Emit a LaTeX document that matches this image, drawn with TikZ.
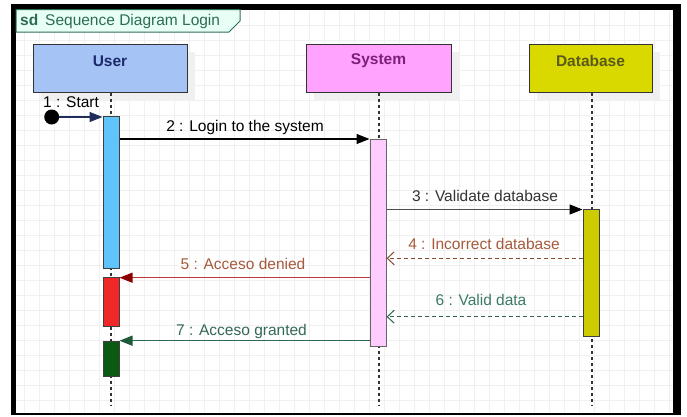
\documentclass[tikz,border=0pt]{standalone}
\usepackage{fontspec}
\setmainfont{Liberation Sans}
\usetikzlibrary{arrows.meta,shadows}

\definecolor{gridc}{HTML}{F0F0F0}
\definecolor{titlefill}{HTML}{E8FFF6}
\definecolor{titledraw}{HTML}{2E6F5A}
\definecolor{titletext}{HTML}{2D6B55}
\definecolor{userfill}{HTML}{A6C3F5}
\definecolor{usertext}{HTML}{1C2A6B}
\definecolor{sysfill}{HTML}{FFA3FF}
\definecolor{systext}{HTML}{7B1F7B}
\definecolor{dbfill}{HTML}{D9D900}
\definecolor{dbtext}{HTML}{5A5A1A}
\definecolor{barblue}{HTML}{5EC4FA}
\definecolor{barred}{HTML}{F02828}
\definecolor{bargreen}{HTML}{0A5A14}
\definecolor{barpink}{HTML}{FFCCFF}
\definecolor{bardb}{HTML}{CCCC00}
\definecolor{navy}{HTML}{1F2D5A}
\definecolor{msgbrown}{HTML}{A55A3C}
\definecolor{linered}{HTML}{B83A3A}
\definecolor{tipred}{HTML}{8B0000}
\definecolor{msgteal}{HTML}{3C7A68}
\definecolor{linegreen}{HTML}{2E6B4E}
\definecolor{tipgreen}{HTML}{1E5A3A}

\tikzset{
  txt/.style={font=\fontsize{15.5}{18}\selectfont, inner sep=0pt},
  head/.style={draw=black!80, line width=1pt, minimum height=48pt,
    drop shadow={shadow xshift=8pt, shadow yshift=-8pt, fill=black!6, opacity=1}},
  bar/.style={draw=black!75, line width=1pt, minimum width=16pt, inner sep=0pt},
  lifeline/.style={draw=black!80, line width=1.5pt, dash pattern=on 3pt off 3pt},
  gridline/.style={draw=gridc, line width=0.8pt},
  synctip/.style={-{Triangle[length=13pt,width=10pt]}},
  rettip/.style={-{Straight Barb[length=7pt,width=13pt,line width=1pt]}},
}

\begin{document}
\begin{tikzpicture}[x=1pt,y=-1pt]
\useasboundingbox (0,0) rectangle (687,416);
\fill[white] (0,0) rectangle (687,416);
% dark outer border and white canvas
\fill[black] (11,4) rectangle (681,414.5);
\fill[white] (16,9.5) rectangle (672.5,412.5);
% background grid
\foreach \x in {24,39,...,669} \draw[gridline] (\x,9.5) -- (\x,412.5);
\foreach \y in {25,40,...,400} \draw[gridline] (16,\y) -- (672.5,\y);

% frame title tab
\draw[fill=titlefill, draw=titledraw, line width=1pt]
  (16,9.5) -- (240,9.5) -- (240,21) -- (229,32) -- (16,32) -- cycle;
\node[txt, anchor=base west, text=titletext] (title) at (20,25)
  {\textbf{sd}\, Sequence Diagram Login};

% lifeline heads
\node[head, fill=userfill, minimum width=154pt,
  label={[txt, anchor=center, yshift=-17.5pt, text=usertext]north:\textbf{User}}]
  (user) at (110,68) {};
\node[head, fill=sysfill, minimum width=145pt,
  label={[txt, anchor=center, yshift=-17.5pt, text=systext]north:\textbf{System}}]
  (sys) at (378.5,68) {};
\node[head, fill=dbfill, minimum width=123pt,
  label={[txt, anchor=center, yshift=-17.5pt, text=dbtext]north:\textbf{Database}}]
  (db) at (590.5,68) {};

% lifelines
\coordinate (userend) at (111,405);
\coordinate (sysend) at (379,405);
\coordinate (dbend) at (592,405);
\draw[lifeline] (user.south -| userend) -- (userend);
\draw[lifeline] (sys.south -| sysend) -- (sysend);
\draw[lifeline] (db.south -| dbend) -- (dbend);

% activation bars
\node[bar, fill=barblue, minimum height=152pt] (ub1) at (111,192) {};
\node[bar, fill=barred, minimum height=49pt] (ub2) at (111,302.2) {};
\node[bar, fill=bargreen, minimum height=35pt] (ub3) at (111,358.5) {};
\node[bar, fill=barpink, draw=black!60, minimum height=207pt] (sb) at (378,242.5) {};
\node[bar, fill=bardb, minimum height=127pt] (dbb) at (591,272.7) {};

% found message start
\node[circle, fill=black, minimum size=15pt, inner sep=0pt] (start) at (51.7,117) {};

% messages
\draw[synctip, draw=navy, line width=1.2pt] (start) -- (ub1.west |- start);
\node[txt, anchor=west] (l1) at (43,101.7) {1 : Start};

\draw[synctip, line width=1.2pt] (ub1.east |- 0,139) -- (sb.west |- 0,139);
\node[txt] (l2) at (245,127) {2 : Login to the system};

\draw[-{Triangle[length=13pt,width=10pt,color=black]}, draw=black!70, line width=1.2pt]
  (sb.east |- 0,209.5) -- (dbb.west |- 0,209.5);
\node[txt, text=black!80] (l3) at (485,196) {3 : Validate database};

\draw[rettip, draw=msgbrown!80!black, line width=1pt, dash pattern=on 4pt off 3pt]
  (dbb.west |- 0,258.3) -- (sb.east |- 0,258.3);
\node[txt, text=msgbrown] (l4) at (484,243.5) {4 : Incorrect database};

\draw[-{Triangle[length=13pt,width=10pt,color=tipred]}, draw=linered, line width=1.2pt]
  (sb.west |- 0,277.7) -- (ub2.east |- 0,277.7);
\node[txt, text=msgbrown] (l5) at (243,264) {5 : Acceso denied};

\draw[rettip, draw=msgteal!80!black, line width=1pt, dash pattern=on 4pt off 3pt]
  (dbb.west |- 0,316.7) -- (sb.east |- 0,316.7);
\node[txt, text=msgteal] (l6) at (481,299.5) {6 : Valid data};

\draw[-{Triangle[length=13pt,width=10pt,color=tipgreen]}, draw=linegreen, line width=1.2pt]
  (sb.west |- 0,340.7) -- (ub3.east |- 0,340.7);
\node[txt, text=msgteal!85!black] (l7) at (241.5,331.7) {7 : Acceso granted};
\end{tikzpicture}
\end{document}
